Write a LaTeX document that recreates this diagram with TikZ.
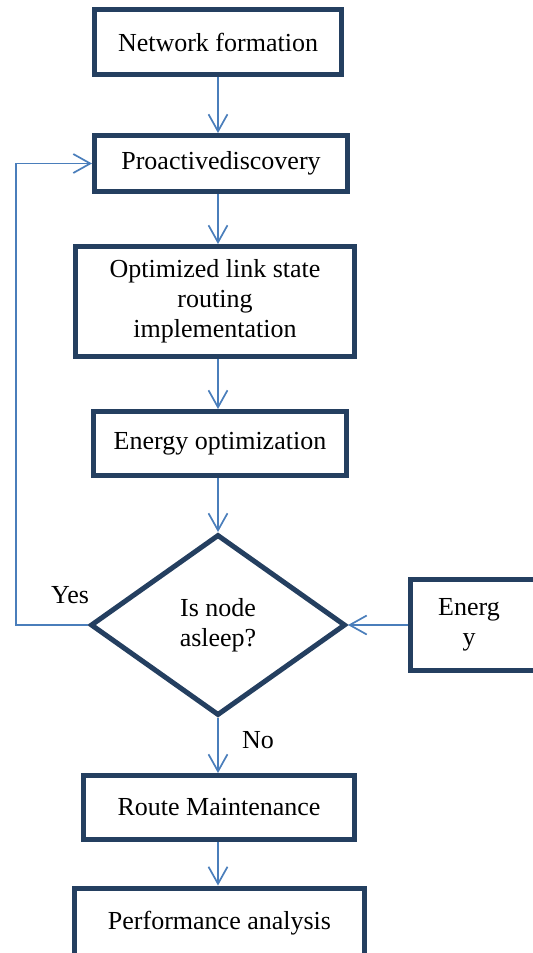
\documentclass[tikz,border=0pt]{standalone}
\usepackage{fontspec}
\setmainfont{Liberation Serif}
\usepackage{xcolor}
\usetikzlibrary{arrows.meta}
\usetikzlibrary{shapes.geometric}

\definecolor{boxnavy}{HTML}{243F60}
\definecolor{flowblue}{HTML}{4A7EBB}

\begin{document}
\begin{tikzpicture}[x=0.5pt, y=-0.5pt,
	box/.style={draw=boxnavy, line width=2.5pt, fill=white, align=center, inner sep=0pt, font=\fontsize{13}{15}\selectfont},
	decision/.style={diamond, draw=boxnavy, line width=2.5pt, align=center, inner sep=0pt, font=\fontsize{13}{15}\selectfont},
	txt/.style={align=center, inner sep=0pt, font=\fontsize{13}{15}\selectfont},
	flow/.style={draw=flowblue, line width=0.85pt, -{Straight Barb[length=8.5pt, width=9.5pt, line width=0.85pt]}}]
	% frame of the page
	\useasboundingbox (0,0) rectangle (533,953);
	\clip (0,0) rectangle (533,953);
	%
	% main column of steps
	\node[box, minimum width=123.5pt, minimum height=32.5pt] (form) at (218, 42) {Network formation};
	\node[box, minimum width=126.5pt, minimum height=28pt] (disc) at (221, 163.5) {Proactivediscovery};
	\node[box, minimum width=139.5pt, minimum height=55pt] (olsr) at (215, 301.5) {Optimized link state\\routing\\implementation};
	\node[box, minimum width=126.5pt, minimum height=32pt] (enopt) at (220, 443.5) {Energy optimization};
	\node[decision, minimum width=127.5pt, minimum height=90.5pt] (asleep) at (218, 625) {Is node\\asleep?};
	\node[box, minimum width=135.5pt, minimum height=32pt] (maint) at (219, 807.5) {Route Maintenance};
	\node[box, minimum width=145pt, minimum height=35pt] (perf) at (219.5, 923) {Performance analysis};
	%
	% energy input on the right (runs off the page)
	\node[box, minimum width=74.75pt, minimum height=45.5pt] (energ) at (485, 625) {};
	\node[txt] (energtxt) at (469, 625) {Energ\\y};
	%
	% branch labels
	\node[txt] (yes) at (70, 595) {Yes};
	\node[txt] (no) at (258, 740) {No};
	%
	% Arrows (all on the axis of the decision)
	\draw[flow] (form.south -| asleep) -- (disc.north -| asleep);
	\draw[flow] (disc.south -| asleep) -- (olsr.north -| asleep);
	\draw[flow] (olsr.south -| asleep) -- (enopt.north -| asleep);
	\draw[flow] (enopt.south -| asleep) -- (asleep.north);
	\draw[flow] (asleep.south) -- (maint.north -| asleep);
	\draw[flow] (maint.south -| asleep) -- (perf.north -| asleep);
	\draw[flow] (energ.west) -- (asleep.east); % energy in
	\draw[flow] (asleep.west) -- +(-72,0) |- (disc.west); % Yes loop back
\end{tikzpicture}
\end{document}
